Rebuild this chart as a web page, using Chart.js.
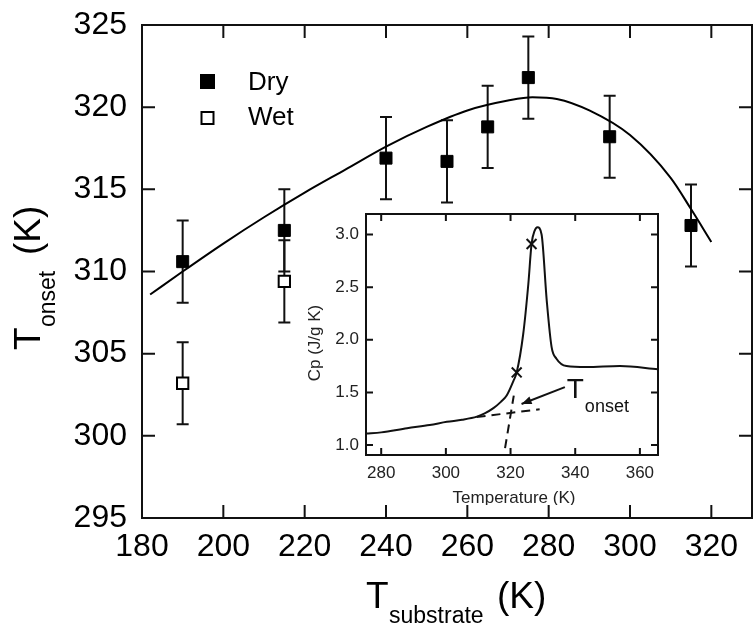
<!DOCTYPE html>
<html>
<head>
<meta charset="utf-8">
<script src="https://cdn.jsdelivr.net/npm/chart.js@4.4.0/dist/chart.umd.min.js"></script>
<style>
  html, body { margin: 0; padding: 0; background: #fff; overflow: hidden; }
  #wrap { position: relative; width: 753px; height: 627px; overflow: hidden; }
  #main { position: absolute; left: 0; top: 0; }
  #inset { position: absolute; left: 295px; top: 205px; }
</style>
</head>
<body>
<div id="wrap">
  <canvas id="main" width="762" height="627"></canvas>
  <canvas id="inset" width="375" height="300"></canvas>
</div>
<script>
// main plot: onset temperature vs substrate temperature
const dryT = [190, 215, 240, 255, 265, 275, 295, 315];
const dryOnset = [310.6, 312.5, 316.9, 316.7, 318.8, 321.8, 318.2, 312.8];
const dryErr = [2.5, 2.5, 2.5, 2.5, 2.5, 2.5, 2.5, 2.5];
const wetT = [190, 215];
const wetOnset = [303.2, 309.4];
const wetErr = [2.5, 2.5];
const fitT = [182, 190, 200, 210, 220, 230, 240, 250, 260, 270, 276, 282, 290, 300, 310, 315, 320];
const fitOnset = [308.6, 310.0, 311.7, 313.3, 314.8, 316.2, 317.6, 318.8, 319.8, 320.4, 320.6, 320.5, 319.8, 318.3, 315.7, 313.8, 311.8];
const mainXTicks = [180, 200, 220, 240, 260, 280, 300, 320];
const mainYTicks = [295, 300, 305, 310, 315, 320, 325];

// inset: heat capacity trace
const cpT = [275.3, 280, 288, 295, 300.3, 305, 309.6, 312, 314.7, 317, 318.8, 320.9, 321.9, 323.9, 325.5, 326.5, 327.5, 328.3, 329.6, 331.2, 332.7, 334.2, 337.3, 343.5, 353.8, 365.6];
const cpVal = [1.11, 1.12, 1.16, 1.19, 1.22, 1.24, 1.27, 1.30, 1.35, 1.41, 1.47, 1.61, 1.69, 2.05, 2.53, 2.91, 3.04, 3.07, 3.0, 2.37, 1.93, 1.82, 1.75, 1.74, 1.75, 1.72];
const baseT = [309.5, 329];
const baseCp = [1.265, 1.34];
const tangT = [318.3, 321.0];
const tangCp = [0.97, 1.47];
const markT = [321.9, 326.5];
const markCp = [1.69, 2.91];
const arrowT = [336.8, 323.4];
const arrowCp = [1.55, 1.39];
const insetXTicks = [280, 300, 320, 340, 360];
const insetYTicks = [1.0, 1.5, 2.0, 2.5, 3.0];

const FONT = '"Liberation Sans", Arial, Helvetica, sans-serif';
const pts = (xs, ys) => xs.map((x, i) => ({ x: x, y: ys[i] }));

function drawFrame(chart, len, ticksX, ticksY) {
  const { ctx, chartArea: a, scales } = chart;
  ctx.save();
  ctx.strokeStyle = '#111';
  ctx.lineWidth = 2;
  ctx.strokeRect(a.left, a.top, a.right - a.left, a.bottom - a.top);
  ctx.beginPath();
  ticksX.forEach(v => {
    const x = scales.x.getPixelForValue(v);
    ctx.moveTo(x, a.bottom); ctx.lineTo(x, a.bottom - len);
    ctx.moveTo(x, a.top); ctx.lineTo(x, a.top + len);
  });
  ticksY.forEach(v => {
    const y = scales.y.getPixelForValue(v);
    ctx.moveTo(a.left, y); ctx.lineTo(a.left + len, y);
    ctx.moveTo(a.right, y); ctx.lineTo(a.right - len, y);
  });
  ctx.stroke();
  ctx.restore();
}

// keep the plot box where the figure has it, ignoring label overhang
function fixX(h) {
  return s => { s.height = h; s.paddingLeft = 0; s.paddingRight = 0; };
}
function fixY(w) {
  return s => { s.width = w; s.paddingTop = 0; s.paddingBottom = 0; };
}

const mainDecor = {
  id: 'mainDecor',
  beforeDatasetsDraw(chart) {
    const { ctx, scales } = chart;
    ctx.save();
    ctx.strokeStyle = '#111';
    ctx.lineWidth = 2;
    const bars = (xs, ys, es) => xs.forEach((t, i) => {
      const x = scales.x.getPixelForValue(t);
      const y1 = scales.y.getPixelForValue(ys[i] + es[i]);
      const y2 = scales.y.getPixelForValue(ys[i] - es[i]);
      ctx.beginPath();
      ctx.moveTo(x, y1); ctx.lineTo(x, y2);
      ctx.moveTo(x - 6, y1); ctx.lineTo(x + 6, y1);
      ctx.moveTo(x - 6, y2); ctx.lineTo(x + 6, y2);
      ctx.stroke();
    });
    bars(dryT, dryOnset, dryErr);
    bars(wetT, wetOnset, wetErr);
    ctx.restore();
  },
  afterDatasetsDraw(chart) {
    const ctx = chart.ctx;
    drawFrame(chart, 13, mainXTicks, mainYTicks);
    ctx.save();
    // legend
    ctx.fillStyle = '#000';
    ctx.fillRect(200, 74, 15, 15);
    ctx.strokeStyle = '#000';
    ctx.lineWidth = 2;
    ctx.strokeRect(201.5, 112, 12, 12);
    ctx.font = '26px ' + FONT;
    ctx.textBaseline = 'alphabetic';
    ctx.fillText('Dry', 248, 90);
    ctx.fillText('Wet', 248, 124.5);
    // x title
    ctx.font = '37px ' + FONT;
    ctx.fillText('T', 366, 608);
    ctx.font = '23px ' + FONT;
    ctx.fillText('substrate', 389, 623);
    ctx.font = '37px ' + FONT;
    ctx.fillText('(K)', 497, 608);
    // y title
    ctx.translate(40, 350);
    ctx.rotate(-Math.PI / 2);
    ctx.font = '37px ' + FONT;
    ctx.fillText('T', 0, 0);
    ctx.font = '23px ' + FONT;
    ctx.fillText('onset', 23, 15);
    ctx.font = '37px ' + FONT;
    ctx.fillText('(K)', 95, 0);
    ctx.restore();
  }
};

new Chart(document.getElementById('main'), {
  type: 'scatter',
  data: {
    datasets: [
      {
        label: 'fit', data: pts(fitT, fitOnset), showLine: true,
        borderColor: '#000', borderWidth: 2, pointRadius: 0,
        cubicInterpolationMode: 'monotone', order: 3
      },
      {
        label: 'Dry', data: pts(dryT, dryOnset), pointStyle: 'rect',
        pointRadius: 8.5, backgroundColor: '#000', borderColor: '#000', borderWidth: 1, order: 1
      },
      {
        label: 'Wet', data: pts(wetT, wetOnset), pointStyle: 'rect',
        pointRadius: 8, backgroundColor: '#fff', borderColor: '#000', borderWidth: 2, order: 2
      }
    ]
  },
  options: {
    responsive: false,
    animation: false,
    layout: { padding: { left: 0, top: 25, right: 1, bottom: 0 } },
    plugins: { legend: { display: false }, tooltip: { enabled: false } },
    scales: {
      x: {
        type: 'linear', min: 180, max: 330,
        afterBuildTicks: s => { s.ticks = mainXTicks.map(v => ({ value: v })); },
        afterFit: fixX(109),
        grid: { display: false, drawTicks: false }, border: { display: false },
        ticks: { font: { family: FONT, size: 32 }, color: '#000', padding: 10, maxRotation: 0, autoSkip: false }
      },
      y: {
        min: 295, max: 325,
        afterBuildTicks: s => { s.ticks = mainYTicks.map(v => ({ value: v })); },
        afterFit: fixY(142),
        grid: { display: false, drawTicks: false }, border: { display: false },
        ticks: { font: { family: FONT, size: 32 }, color: '#000', padding: 15, autoSkip: false }
      }
    }
  },
  plugins: [mainDecor]
});

const insetDecor = {
  id: 'insetDecor',
  afterDatasetsDraw(chart) {
    const { ctx, scales } = chart;
    drawFrame(chart, 7, insetXTicks, insetYTicks);
    ctx.save();
    // arrow head
    const x0 = scales.x.getPixelForValue(arrowT[0]), y0 = scales.y.getPixelForValue(arrowCp[0]);
    const x1 = scales.x.getPixelForValue(arrowT[1]), y1 = scales.y.getPixelForValue(arrowCp[1]);
    const ang = Math.atan2(y1 - y0, x1 - x0);
    ctx.fillStyle = '#111';
    ctx.beginPath();
    ctx.moveTo(x1, y1);
    ctx.lineTo(x1 - 10 * Math.cos(ang) + 4 * Math.sin(ang), y1 - 10 * Math.sin(ang) - 4 * Math.cos(ang));
    ctx.lineTo(x1 - 10 * Math.cos(ang) - 4 * Math.sin(ang), y1 - 10 * Math.sin(ang) + 4 * Math.cos(ang));
    ctx.closePath();
    ctx.fill();
    // T onset label next to the arrow start
    ctx.fillStyle = '#111';
    ctx.textBaseline = 'alphabetic';
    ctx.font = '28px ' + FONT;
    ctx.fillText('T', x0 + 2, y0 + 11);
    ctx.font = '18px ' + FONT;
    ctx.fillText('onset', x0 + 20, y0 + 25);
    // axis titles
    ctx.fillStyle = '#222';
    ctx.font = '17px ' + FONT;
    ctx.textAlign = 'center';
    const a = chart.chartArea;
    ctx.fillText('Temperature (K)', (a.left + a.right) / 2 + 2, 298);
    ctx.translate(25, 138);
    ctx.rotate(-Math.PI / 2);
    ctx.fillText('Cp (J/g K)', 0, 0);
    ctx.restore();
  }
};

new Chart(document.getElementById('inset'), {
  type: 'scatter',
  data: {
    datasets: [
      {
        data: pts(cpT, cpVal), showLine: true, borderColor: '#111', borderWidth: 2,
        pointRadius: 0, cubicInterpolationMode: 'monotone'
      },
      {
        data: pts(baseT, baseCp), showLine: true, borderColor: '#111', borderWidth: 2,
        borderDash: [9, 6], pointRadius: 0
      },
      {
        data: pts(tangT, tangCp), showLine: true, borderColor: '#111', borderWidth: 2,
        borderDash: [9, 6], pointRadius: 0
      },
      {
        data: pts(arrowT, arrowCp), showLine: true, borderColor: '#111', borderWidth: 2, pointRadius: 0
      },
      {
        data: pts(markT, markCp), pointStyle: 'crossRot', pointRadius: 7,
        borderColor: '#111', borderWidth: 2
      }
    ]
  },
  options: {
    responsive: false,
    animation: false,
    layout: { padding: { left: 0, top: 8, right: 12, bottom: 0 } },
    plugins: { legend: { display: false }, tooltip: { enabled: false } },
    scales: {
      x: {
        type: 'linear', min: 275.3, max: 365.6,
        afterBuildTicks: s => { s.ticks = insetXTicks.map(v => ({ value: v })); },
        afterFit: fixX(50),
        grid: { display: false, drawTicks: false }, border: { display: false },
        ticks: { font: { family: FONT, size: 17 }, color: '#222', padding: 8, maxRotation: 0, autoSkip: false }
      },
      y: {
        min: 0.905, max: 3.195,
        afterBuildTicks: s => { s.ticks = insetYTicks.map(v => ({ value: v })); },
        afterFit: fixY(71),
        grid: { display: false, drawTicks: false }, border: { display: false },
        ticks: { font: { family: FONT, size: 17 }, color: '#222', padding: 7, autoSkip: false,
                 callback: v => v.toFixed(1) }
      }
    }
  },
  plugins: [insetDecor]
});
</script>
</body>
</html>
